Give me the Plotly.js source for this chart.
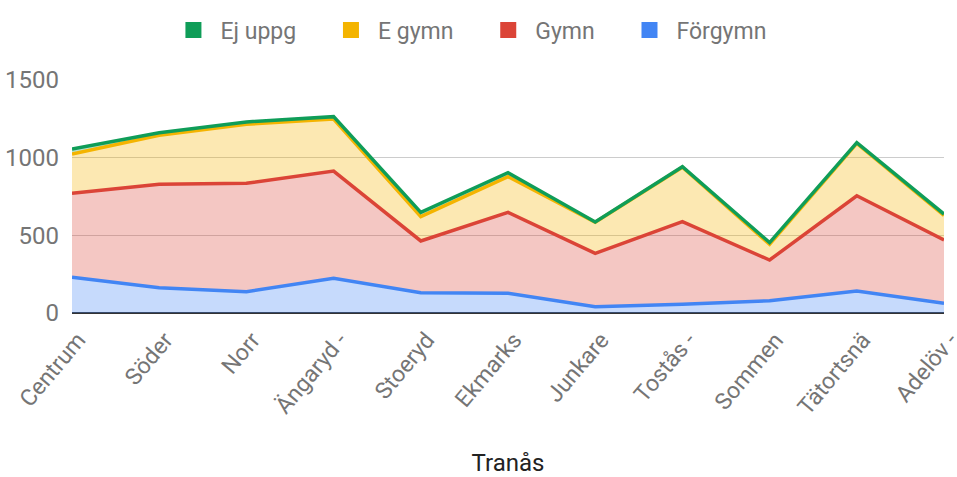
<!DOCTYPE html>
<html>
<head>
<meta charset="utf-8">
<script src="https://cdn.plot.ly/plotly-3.0.1.min.js"></script>
<style>html,body{margin:0;padding:0;background:#fff}#chart{width:957px;height:477px}</style>
</head>
<body>
<div id="chart"></div>
<script>
const categories = ["Centrum","Söder","Norr","Ängaryd -","Stoeryd","Ekmarks","Junkare","Tostås -","Sommen","Tätortsnä","Adelöv -"];
const forgymn = [230,163,137,223,131,127,41,56,79,142,62];
const gymn    = [541,666,698,691,333,521,343,532,262,613,408];
const egymn   = [253,315,380,335,156,230,200,350,101,337,158];
const ejuppg  = [32,17,15,15,28,25,2,4,11,5,9];
const seriesNames = ["Förgymn","Gymn","E gymn","Ej uppg"];
const yTicks = [0,500,1000,1500];
const xTitle = "Tranås";

const colors = ["#4285f4","#db4437","#f4b400","#0f9d58"];
const fills = ["rgba(66,133,244,0.3)","rgba(219,68,55,0.3)","rgba(244,180,0,0.3)","rgba(15,157,88,0.3)"];
const seriesVals = [forgymn,gymn,egymn,ejuppg];
const pad = "\u00a0\u00a0\u00a0\u00a0";

const traces = [];
seriesVals.forEach((vals,i)=>{
  traces.push({
    type:"scatter", mode:"lines", x:categories, y:vals, name:seriesNames[i],
    stackgroup:"one", line:{color:colors[i], width:3.5}, fillcolor:fills[i],
    showlegend:false, hoverinfo:"x+y+name"
  });
});
seriesVals.forEach((vals,i)=>{
  traces.push({
    type:"scatter", mode:"markers", x:[null], y:[null], name:seriesNames[i] + (i>0 ? pad : ""),
    marker:{symbol:"square", size:16, color:colors[i]}, showlegend:true, hoverinfo:"skip"
  });
});

const layout = {
  width:957, height:477,
  margin:{l:72, r:13, t:80, b:164},
  paper_bgcolor:"#fff", plot_bgcolor:"#fff",
  font:{family:"Roboto, Arial, sans-serif", color:"#757575", size:24},
  showlegend:true,
  legend:{orientation:"h", xref:"container", yref:"container", x:0.490, xanchor:"center",
          y:0.937, yanchor:"middle", itemwidth:44,
          traceorder:"reversed", font:{size:23, color:"#757575"}, itemclick:false},
  xaxis:{type:"category", range:[0,10], showgrid:false, zeroline:false, showline:false,
         tickangle:-50, tickfont:{size:23,color:"#757575"}, ticks:"", ticklabelstandoff:8, ticklabelshift:6,
         title:{text:xTitle, font:{size:24,color:"#222222"}, standoff:45}},
  yaxis:{range:[0,1500], tickvals:yTicks, ticktext:yTicks.map(String),
         gridcolor:"#cccccc", gridwidth:1.3, zeroline:true, zerolinecolor:"#333333", zerolinewidth:1.5,
         tickfont:{size:24,color:"#757575"}, ticklabelstandoff:12, showline:false}
};
Plotly.newPlot("chart", traces, layout, {displayModeBar:false, staticPlot:true});
</script>
</body>
</html>
